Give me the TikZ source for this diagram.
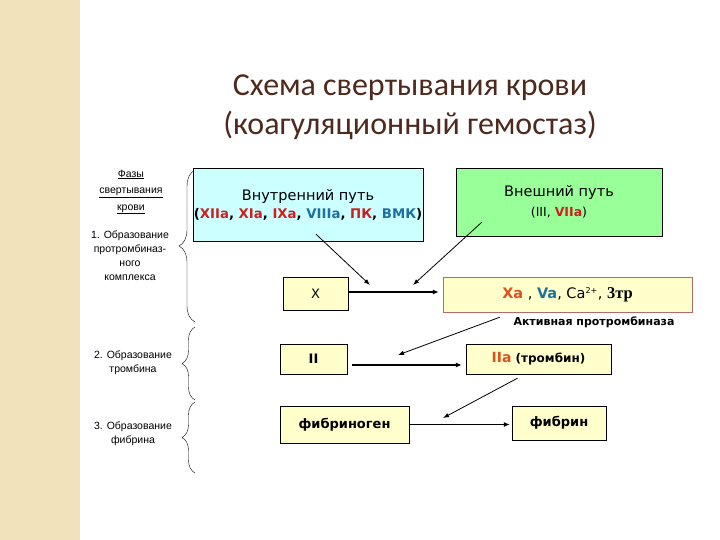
\documentclass[tikz,border=0pt]{standalone}
\usepackage{fontspec}
\setmainfont{DejaVu Sans}
\newfontfamily\titlefont{Carlito}
\newfontfamily\phasefont{Liberation Sans}
\newfontfamily\numfont{Liberation Serif}
\usepackage{xcolor}
\usetikzlibrary{arrows.meta, positioning, decorations.pathreplacing}

\definecolor{beige}{HTML}{F2E2BC}
\definecolor{titlebrown}{HTML}{4E2A1E}
\definecolor{innerfill}{HTML}{CCFFFF}
\definecolor{outerfill}{HTML}{99FF99}
\definecolor{yellowfill}{HTML}{FFFFCC}
\definecolor{fred}{HTML}{CC1F1F}
\definecolor{fblue}{HTML}{1F6F9F}
\definecolor{forange}{HTML}{E0501E}
\definecolor{xaborder}{HTML}{B86A6A}

\begin{document}
\begin{tikzpicture}[
    x=1pt, y=-1pt,
    every node/.style={inner sep=0pt},
    box/.style={rectangle, draw, align=center, fill=yellowfill, font=\fontsize{13}{16}\selectfont},
    phase/.style={align=center, font=\phasefont\fontsize{10.5}{14}\selectfont},
    br/.style={decorate, decoration={brace, amplitude=#1}},
    arr/.style={-{Latex[length=6pt, width=5pt]}, line width=1.6pt},
    darr/.style={-{Latex[length=6pt, width=4.5pt]}, line width=0.8pt}
]

\fill[white] (0,0) rectangle (720,540);
\fill[beige] (0,0) rectangle (80,540);
\useasboundingbox (0,0) rectangle (720,540);

\node[align=center, text=titlebrown, font=\titlefont\fontsize{32}{39}\selectfont] (title) at (410,107)
{Схема свертывания крови\\(коагуляционный гемостаз)};

\node[phase, font=\phasefont\fontsize{10.5}{16.5}\selectfont] (ph0) at (131,192) {\underline{Фазы}\\\underline{свертывания}\\\underline{крови}};
\node[phase] (ph1) at (130,256) {1. Образование\\протромбиназ-\\ного\\комплекса};
\node[phase] (ph2) at (133,363) {2. Образование\\тромбина};
\node[phase] (ph3) at (133,434) {3. Образование\\фибрина};

\draw[br=16pt] (195,322) -- (195,170);
\draw[br=13pt] (195,400) -- (195,327);
\draw[br=13pt] (195,473) -- (195,402);

\node[box, fill=innerfill, minimum width=230pt, minimum height=73pt] (inner) at (308,204.5)
{{\fontsize{14.5}{16}\selectfont Внутренний путь}\\[2pt]
{\fontsize{13.3}{15}\selectfont\bfseries (\textcolor{fred}{XIIa}, \textcolor{fred}{XIa}, \textcolor{fred}{IXa}, \textcolor{fblue}{VIIIa}, \textcolor{fred}{ПК}, \textcolor{fblue}{ВМК})}};
\node[box, fill=outerfill, minimum width=206pt, minimum height=68pt] (outer) at (559,202)
{{\fontsize{14.5}{16}\selectfont Внешний путь}\\[4pt]
{\fontsize{12.5}{14}\selectfont (III, \textcolor{fred}{\bfseries VIIa})}};

\node[box, minimum width=65pt, minimum height=33pt] (x) at (315.5,293.5) {X};
\node[box, draw=xaborder, minimum width=249pt, minimum height=35pt, font=\fontsize{14.5}{16}\selectfont] (xa) at (567.5,294.5)
{\textcolor{forange}{\bfseries Xa} , \textcolor{fblue}{\bfseries Va}, Ca\textsuperscript{\fontsize{8}{9}\selectfont 2+}, {\numfont\bfseries\fontsize{16.5}{16}\selectfont 3тр}};
\node[font=\bfseries\fontsize{11}{12}\selectfont] (act) at (594,322) {Активная протромбиназа};

\node[box, minimum width=67pt, minimum height=30pt, font=\bfseries\fontsize{13}{16}\selectfont] (ii) at (313.5,359) {II};
\node[box, minimum width=145pt, minimum height=30pt, font=\bfseries\fontsize{12}{16}\selectfont] (iia) at (538.5,359)
{\textcolor{forange}{\fontsize{14}{16}\selectfont IIa} (тромбин)};

\node[box, minimum width=129pt, minimum height=37pt, font=\bfseries\fontsize{13}{16}\selectfont] (fgen) at (344.5,424.5) {фибриноген};
\node[box, minimum width=94pt, minimum height=34pt, font=\bfseries\fontsize{13}{16}\selectfont] (fib) at (559,423) {фибрин};

\coordinate (m1) at (370,285);
\coordinate (m2) at (413,285);
\coordinate (m3) at (398,355);
\coordinate (m4) at (443,418);

\draw[arr, shorten >=4pt] ([yshift=1.5pt]x.east) -- ([yshift=1.5pt]x.east -| xa.west);
\draw[arr, shorten <=5pt, shorten >=4pt] ([yshift=-6pt]ii.east) -- ([yshift=-6pt]ii.east -| iia.west);
\draw[arr, shorten >=2pt] (fgen.east) -- (fgen.east -| fib.west);

\draw[darr] ([xshift=8pt, yshift=7pt]inner.south) -- (m1);
\draw[darr] ([xshift=26pt, yshift=14pt]outer.south west) -- (m2);
\draw[darr] ([xshift=57pt, yshift=-5pt]xa.south west) -- (m3);
\draw[darr] ([xshift=-21pt, yshift=-4pt]iia.south) -- (m4);

\end{tikzpicture}
\end{document}
